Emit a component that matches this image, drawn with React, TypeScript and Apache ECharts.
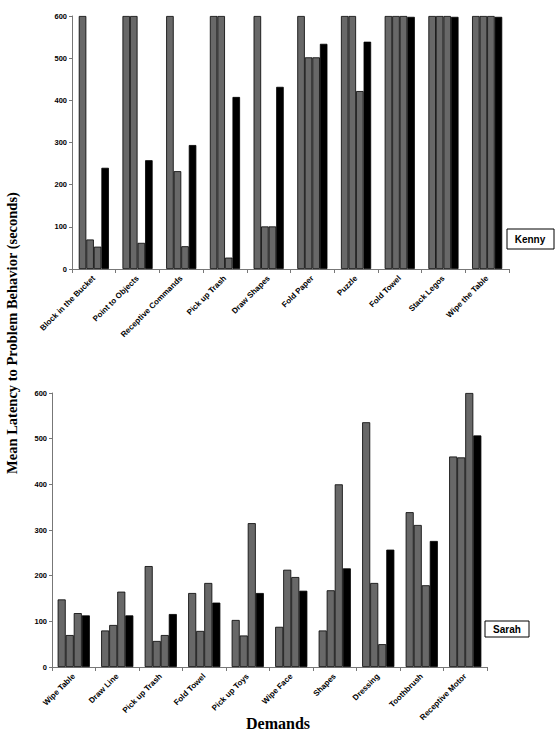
import React, { useEffect, useRef } from "react";
import * as echarts from "echarts";

const kennyCategories = [
  "Block in the Bucket",
  "Point to Objects",
  "Receptive Commands",
  "Pick up Trash",
  "Draw Shapes",
  "Fold Paper",
  "Puzzle",
  "Fold Towel",
  "Stack Legos",
  "Wipe the Table",
];
const kennyS1 = [600, 600, 600, 600, 600, 600, 600, 600, 600, 600];
const kennyS2 = [70, 600, 232, 600, 101, 502, 600, 600, 600, 600];
const kennyS3 = [53, 62, 54, 27, 101, 502, 422, 600, 600, 600];
const kennyS4 = [240, 258, 294, 408, 432, 534, 539, 598, 598, 598];

const sarahCategories = [
  "Wipe Table",
  "Draw Line",
  "Pick up Trash",
  "Fold Towel",
  "Pick up Toys",
  "Wipe Face",
  "Shapes",
  "Dressing",
  "Toothbrush",
  "Receptive Motor",
];
const sarahS1 = [148, 80, 221, 162, 103, 88, 80, 536, 339, 461];
const sarahS2 = [70, 92, 57, 79, 69, 213, 168, 184, 311, 459];
const sarahS3 = [118, 165, 70, 184, 315, 197, 400, 50, 179, 600];
const sarahS4 = [113, 113, 116, 141, 162, 167, 216, 257, 276, 507];

const yTicks = { min: 0, max: 600, interval: 100 };

export default function App() {
  const ref = useRef<HTMLDivElement>(null);
  useEffect(() => {
    document.body.style.margin = "0";
    if (!ref.current) return;
    const chart = echarts.init(ref.current, undefined, { renderer: "svg" });
    const gray = "#686868";
    const labelFont = { fontFamily: "Liberation Sans", fontWeight: "bold" as const, fontSize: 8, color: "#000" };
    const xAxisBase = (cats: string[], gi: number) => ({
      type: "category" as const,
      gridIndex: gi,
      data: cats,
      axisLine: { lineStyle: { color: "#777", width: 1 } },
      axisTick: { show: true, alignWithLabel: false, length: 4, lineStyle: { color: "#777" } },
      axisLabel: { ...labelFont, rotate: 45, interval: 0, margin: 8 },
    });
    const yAxisBase = (gi: number) => ({
      type: "value" as const,
      gridIndex: gi,
      ...yTicks,
      splitLine: { show: false },
      axisLine: { show: true, lineStyle: { color: "#777", width: 1 } },
      axisTick: { show: true, length: 3, lineStyle: { color: "#777" } },
      axisLabel: { ...labelFont, fontSize: 7.5, margin: 5 },
    });
    const mk = (data: number[], color: string, gi: number, gap: string) => ({
      type: "bar" as const,
      xAxisIndex: gi,
      yAxisIndex: gi,
      data,
      barGap: "0%",
      barCategoryGap: gap,
      itemStyle: { color, borderColor: "#000", borderWidth: 0.8 },
    });
    chart.setOption({
      animation: false,
      backgroundColor: "#fff",
      grid: [
        { left: 72, top: 16, width: 437, height: 253 },
        { left: 52, top: 393, width: 435, height: 274 },
      ],
      xAxis: [xAxisBase(kennyCategories, 0), xAxisBase(sarahCategories, 1)],
      yAxis: [yAxisBase(0), yAxisBase(1)],
      series: [
        mk(kennyS1, gray, 0, "31%"),
        mk(kennyS2, gray, 0, "31%"),
        mk(kennyS3, gray, 0, "31%"),
        mk(kennyS4, "#000", 0, "31%"),
        mk(sarahS1, gray, 1, "26%"),
        mk(sarahS2, gray, 1, "26%"),
        mk(sarahS3, gray, 1, "26%"),
        mk(sarahS4, "#000", 1, "26%"),
      ],
      graphic: [
        {
          type: "rect",
          shape: { x: 507, y: 229, width: 47, height: 20 },
          style: { fill: "#fff", stroke: "#000", lineWidth: 1 },
        },
        {
          type: "text",
          x: 530,
          y: 239,
          style: {
            text: "Kenny",
            fontFamily: "Liberation Sans",
            fontWeight: "bold",
            fontSize: 10,
            fill: "#000",
            align: "center",
            verticalAlign: "middle",
          },
        },
        {
          type: "rect",
          shape: { x: 485, y: 621, width: 44, height: 16 },
          style: { fill: "#fff", stroke: "#000", lineWidth: 1 },
        },
        {
          type: "text",
          x: 507,
          y: 629,
          style: {
            text: "Sarah",
            fontFamily: "Liberation Sans",
            fontWeight: "bold",
            fontSize: 10,
            fill: "#000",
            align: "center",
            verticalAlign: "middle",
          },
        },
        {
          type: "text",
          x: 278,
          y: 723,
          style: {
            text: "Demands",
            fontFamily: "Liberation Serif",
            fontWeight: "bold",
            fontSize: 16,
            fill: "#000",
            align: "center",
            verticalAlign: "middle",
          },
        },
        {
          type: "text",
          x: 12,
          y: 333,
          rotation: Math.PI / 2,
          style: {
            text: "Mean Latency to Problem Behavior (seconds)",
            fontFamily: "Liberation Serif",
            fontWeight: "bold",
            fontSize: 14.5,
            fill: "#000",
            align: "center",
            verticalAlign: "middle",
          },
        },
      ],
    });
    return () => chart.dispose();
  }, []);
  return <div ref={ref} style={{ width: 555, height: 736 }} />;
}
